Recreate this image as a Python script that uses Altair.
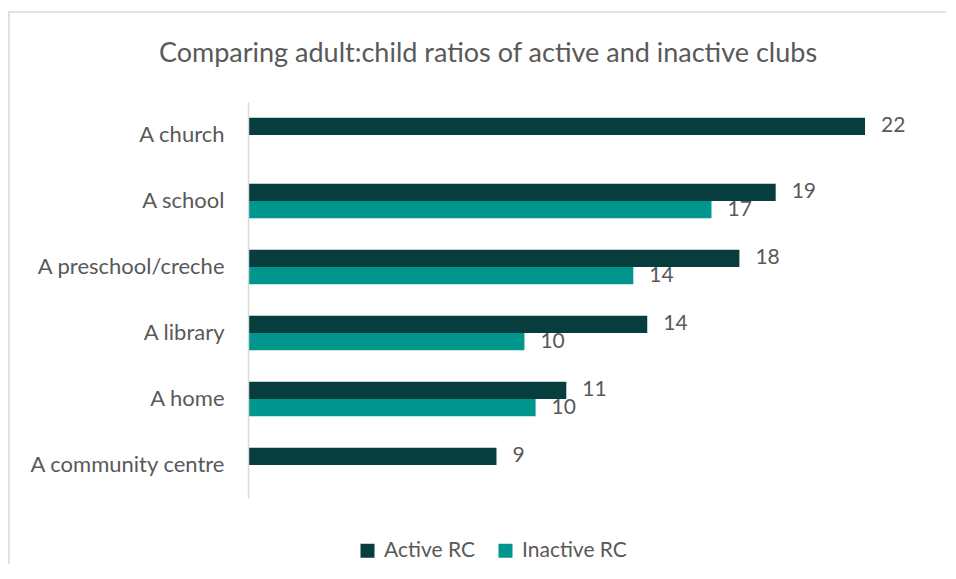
import altair as alt
import pandas as pd

categories = ["A church", "A school", "A preschool/creche", "A library", "A home", "A community centre"]
active = [22.1, 18.9, 17.6, 14.3, 11.4, 8.9]
inactive = [None, 16.6, 13.8, 9.9, 10.3, None]
series = ["Active RC", "Inactive RC"]
colors = ["#083D3D", "#00958D"]
title_text = "Comparing adult:child ratios of active and inactive clubs"

rows = []
for c, a, i in zip(categories, active, inactive):
    if a is not None:
        rows.append({"place": c, "series": series[0], "value": a})
    if i is not None:
        rows.append({"place": c, "series": series[1], "value": i})
df = pd.DataFrame(rows)

FONT = "Lato"
GREY = "#595959"

y_enc = alt.Y("place:N", sort=categories, title=None,
              scale=alt.Scale(paddingInner=0.476, paddingOuter=0.238),
              axis=alt.Axis(ticks=False, domainColor="#d9d9d9", domainWidth=1.5,
                            labelFontSize=22, labelColor=GREY, labelFont=FONT,
                            labelLimit=300, labelPadding=24, grid=False, zindex=1))
yoff = alt.YOffset("series:N", sort=series, scale=alt.Scale(paddingInner=0))
x_enc = alt.X("value:Q", scale=alt.Scale(domain=[0, 25]), axis=None)

border = alt.Chart(alt.Data(values=[{}])).mark_rect(
    filled=False, stroke="#d9d9d9", strokeWidth=1.5
).encode(x=alt.value(-239), x2=alt.value(900), y=alt.value(-90), y2=alt.value(700))

title = alt.Chart(alt.Data(values=[{}])).mark_text(
    text=title_text, align="center", baseline="alphabetic",
    fontSize=27, color=GREY, font=FONT
).encode(x=alt.value(240), y=alt.value(-40))

bars = alt.Chart(df).mark_bar().encode(
    y=y_enc, yOffset=yoff, x=x_enc,
    color=alt.Color("series:N", sort=series,
                    scale=alt.Scale(domain=series, range=colors),
                    legend=alt.Legend(title=None, orient="none", direction="horizontal",
                                      legendX=109, legendY=438, symbolType="square",
                                      symbolSize=196, symbolStrokeWidth=0,
                                      labelFontSize=21, labelColor=GREY, labelFont=FONT,
                                      columnPadding=20, labelOffset=6))
)

labels = alt.Chart(df).mark_text(align="left", baseline="middle", dx=16,
                                 fontSize=21, color=GREY, font=FONT).encode(
    y=alt.Y("place:N", sort=categories), yOffset=yoff, x=x_enc,
    text=alt.Text("value:Q", format=".0f")
)

chart = alt.layer(border, title, bars, labels).properties(
    width=698, height=396,
    padding={"left": 240, "top": 94, "right": 0, "bottom": 66},
    autosize=alt.AutoSizeParams(type="none"),
    background="white",
).configure_view(strokeWidth=0, stroke="transparent")

chart.save("out.html", embed_options={"renderer": "svg", "actions": False})
